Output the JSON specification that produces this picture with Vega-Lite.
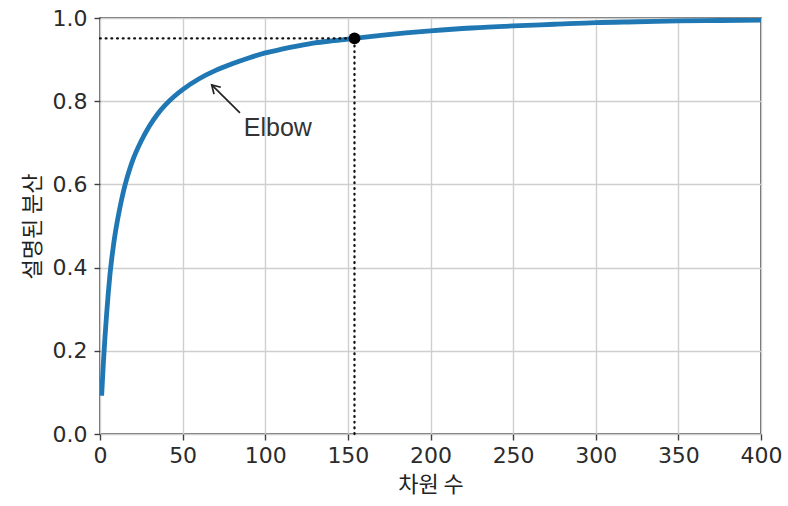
{
  "$schema": "https://vega.github.io/schema/vega-lite/v6.json",
  "width": 661,
  "height": 416,
  "autosize": {"type": "none"},
  "padding": {"left": 100, "top": 18, "right": 27, "bottom": 72},
  "background": "white",
  "config": {
    "view": {"stroke": "#404040", "strokeWidth": 1.6},
    "axis": {
      "labelFont": "DejaVu Sans",
      "labelFontSize": 22,
      "labelColor": "#2b2b2b",
      "labelFlush": false,
      "titleFont": "Noto Sans CJK KR",
      "titleFontSize": 22,
      "titleFontWeight": "normal",
      "titleColor": "#222222",
      "tickColor": "#404040",
      "tickSize": 6,
      "tickWidth": 1.4,
      "domain": false,
      "grid": true,
      "gridColor": "#cfcfcf",
      "gridWidth": 1.4
    }
  },
  "datasets": {
    "curve": [
      {"d": 1, "v": 0.092},
      {"d": 2, "v": 0.168},
      {"d": 3, "v": 0.232},
      {"d": 4, "v": 0.288},
      {"d": 5, "v": 0.338},
      {"d": 6, "v": 0.382},
      {"d": 7, "v": 0.418},
      {"d": 8, "v": 0.449},
      {"d": 9, "v": 0.477},
      {"d": 10, "v": 0.501},
      {"d": 12, "v": 0.543},
      {"d": 14, "v": 0.58},
      {"d": 16, "v": 0.611},
      {"d": 18, "v": 0.637},
      {"d": 20, "v": 0.66},
      {"d": 25, "v": 0.705},
      {"d": 30, "v": 0.741},
      {"d": 35, "v": 0.77},
      {"d": 40, "v": 0.793},
      {"d": 45, "v": 0.812},
      {"d": 50, "v": 0.828},
      {"d": 60, "v": 0.854},
      {"d": 70, "v": 0.874},
      {"d": 80, "v": 0.89},
      {"d": 90, "v": 0.904},
      {"d": 100, "v": 0.916},
      {"d": 110, "v": 0.925},
      {"d": 120, "v": 0.933},
      {"d": 130, "v": 0.94},
      {"d": 140, "v": 0.945},
      {"d": 154, "v": 0.951},
      {"d": 170, "v": 0.958},
      {"d": 185, "v": 0.964},
      {"d": 200, "v": 0.969},
      {"d": 225, "v": 0.976},
      {"d": 250, "v": 0.981},
      {"d": 275, "v": 0.985},
      {"d": 300, "v": 0.989},
      {"d": 325, "v": 0.991},
      {"d": 350, "v": 0.993},
      {"d": 375, "v": 0.994},
      {"d": 400, "v": 0.995}
    ],
    "guides": [
      {"x": 0, "x2": 154, "y": 0.951, "y2": 0.951},
      {"x": 154, "x2": 154, "y": 0, "y2": 0.951}
    ],
    "marker": [{"d": 154, "v": 0.951}],
    "arrow": [{"x": 84.7, "y": 0.772, "x2": 67.6, "y2": 0.839}],
    "label": [{"x": 87, "y": 0.735, "text": "Elbow"}]
  },
  "layer": [
    {
      "data": {"name": "curve"},
      "mark": {"type": "line", "color": "#1f77b4", "strokeWidth": 4.8, "interpolate": "monotone", "clip": true},
      "encoding": {
        "x": {
          "field": "d", "type": "quantitative", "title": "차원 수",
          "scale": {"domain": [0, 400], "nice": false, "zero": false},
          "axis": {"values": [0, 50, 100, 150, 200, 250, 300, 350, 400], "labelPadding": 5, "titlePadding": 8}
        },
        "y": {
          "field": "v", "type": "quantitative", "title": "설명된 분산",
          "scale": {"domain": [0, 1], "nice": false},
          "axis": {"values": [0, 0.2, 0.4, 0.6, 0.8, 1.0], "format": ".1f", "labelPadding": 7, "titlePadding": 8}
        }
      }
    },
    {
      "data": {"name": "guides"},
      "mark": {"type": "rule", "color": "#111111", "strokeWidth": 2.3, "strokeDash": [0.8, 4.9], "strokeCap": "round"},
      "encoding": {
        "x": {"field": "x", "type": "quantitative"},
        "x2": {"field": "x2"},
        "y": {"field": "y", "type": "quantitative"},
        "y2": {"field": "y2"}
      }
    },
    {
      "data": {"name": "marker"},
      "mark": {"type": "point", "filled": true, "color": "black", "size": 140, "opacity": 1},
      "encoding": {
        "x": {"field": "d", "type": "quantitative"},
        "y": {"field": "v", "type": "quantitative"}
      }
    },
    {
      "data": {"name": "arrow"},
      "mark": {"type": "rule", "color": "#222222", "strokeWidth": 1.7},
      "encoding": {
        "x": {"field": "x", "type": "quantitative"},
        "x2": {"field": "x2"},
        "y": {"field": "y", "type": "quantitative"},
        "y2": {"field": "y2"}
      }
    },
    {
      "data": {"name": "arrow"},
      "mark": {"type": "point", "shape": "M-0.6,1L0,0L0.6,1", "filled": false, "color": "#222222", "strokeWidth": 1.7, "size": 260, "angle": -45, "opacity": 1},
      "encoding": {
        "x": {"field": "x2", "type": "quantitative"},
        "y": {"field": "y2", "type": "quantitative"}
      }
    },
    {
      "data": {"name": "label"},
      "mark": {"type": "text", "align": "left", "baseline": "middle", "font": "Liberation Sans", "fontSize": 25, "color": "#333333"},
      "encoding": {
        "x": {"field": "x", "type": "quantitative"},
        "y": {"field": "y", "type": "quantitative"},
        "text": {"field": "text"}
      }
    }
  ]
}
